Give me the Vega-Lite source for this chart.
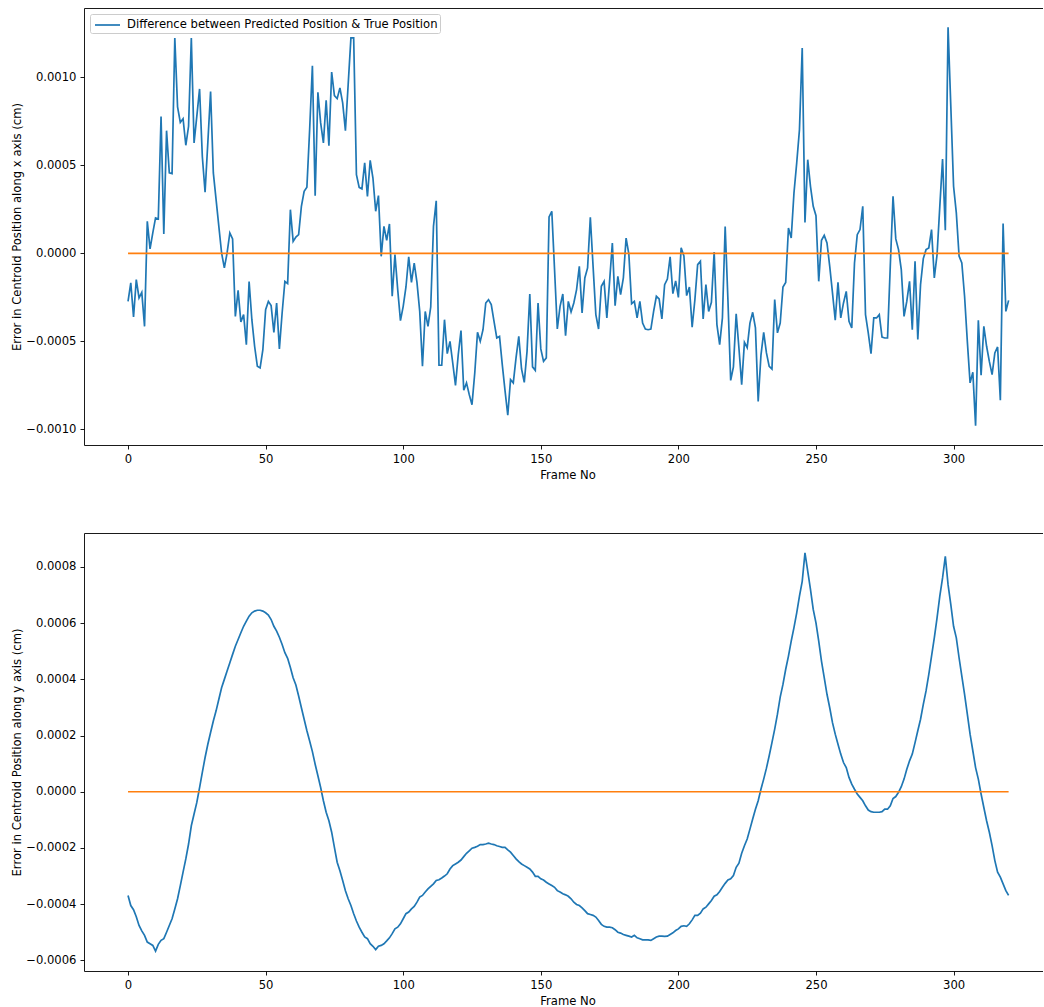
{
  "$schema": "https://vega.github.io/schema/vega-lite/v6.json",
  "padding": {"left": 11, "top": 8, "right": 0, "bottom": 0},
  "config": {
    "font": "DejaVu Sans",
    "view": {"stroke": null},
    "axis": {"grid": false, "domainColor": "#000000", "domainWidth": 0.9, "tickColor": "#000000", "tickWidth": 0.9, "tickSize": 4, "labelColor": "#000000", "labelFontSize": 11.6, "labelFont": "DejaVu Sans", "labelPadding": 4, "titleColor": "#000000", "titleFontSize": 11.6, "titleFontWeight": "normal", "titleFont": "DejaVu Sans"},
    "axisY": {"minExtent": 57, "maxExtent": 57, "titlePadding": 4.5},
    "axisX": {"titlePadding": 5, "labelFlush": false},
    "legend": {"orient": "top-left", "offset": 6, "title": null, "padding": 2, "strokeColor": "#cccccc", "fillColor": "rgba(255,255,255,0.8)", "cornerRadius": 2, "labelFontSize": 11.6, "labelColor": "#000000", "labelFont": "DejaVu Sans", "symbolType": "M-1.5625,0H1.5625", "symbolSize": 256, "symbolStrokeWidth": 1.7, "symbolOffset": 6.5, "labelOffset": 10.6, "labelLimit": 500}
  },
  "spacing": 51,
  "datasets": {
    "zero": [{"frame": 0, "v": 0}, {"frame": 320, "v": 0}],
    "frames": [
{"frame":0,"dx":-0.000273,"dy":-0.000369},
{"frame":1,"dx":-0.000168,"dy":-0.000405},
{"frame":2,"dx":-0.000361,"dy":-0.00042},
{"frame":3,"dx":-0.000149,"dy":-0.000445},
{"frame":4,"dx":-0.000253,"dy":-0.000476},
{"frame":5,"dx":-0.000222,"dy":-0.000495},
{"frame":6,"dx":-0.000415,"dy":-0.000511},
{"frame":7,"dx":0.000182,"dy":-0.000535},
{"frame":8,"dx":0.000025,"dy":-0.000541},
{"frame":9,"dx":0.000116,"dy":-0.000547},
{"frame":10,"dx":0.000201,"dy":-0.000567},
{"frame":11,"dx":0.000195,"dy":-0.000543},
{"frame":12,"dx":0.000778,"dy":-0.000529},
{"frame":13,"dx":0.00011,"dy":-0.000523},
{"frame":14,"dx":0.000697,"dy":-0.0005},
{"frame":15,"dx":0.000457,"dy":-0.000476},
{"frame":16,"dx":0.000453,"dy":-0.000452},
{"frame":17,"dx":0.001224,"dy":-0.000417},
{"frame":18,"dx":0.000832,"dy":-0.000381},
{"frame":19,"dx":0.000744,"dy":-0.000334},
{"frame":20,"dx":0.000765,"dy":-0.000286},
{"frame":21,"dx":0.000614,"dy":-0.000239},
{"frame":22,"dx":0.000722,"dy":-0.000186},
{"frame":23,"dx":0.001224,"dy":-0.000121},
{"frame":24,"dx":0.000627,"dy":-0.000079},
{"frame":25,"dx":0.00078,"dy":-0.000038},
{"frame":26,"dx":0.000934,"dy":0.000015},
{"frame":27,"dx":0.00055,"dy":0.000069},
{"frame":28,"dx":0.000347,"dy":0.000122},
{"frame":29,"dx":0.00063,"dy":0.000169},
{"frame":30,"dx":0.00092,"dy":0.000211},
{"frame":31,"dx":0.000457,"dy":0.000252},
{"frame":32,"dx":0.000305,"dy":0.000288},
{"frame":33,"dx":0.000153,"dy":0.000329},
{"frame":34,"dx":0.000002,"dy":0.00037},
{"frame":35,"dx":-0.000083,"dy":0.0004},
{"frame":36,"dx":0.000002,"dy":0.00043},
{"frame":37,"dx":0.000116,"dy":0.000459},
{"frame":38,"dx":0.000082,"dy":0.000489},
{"frame":39,"dx":-0.000358,"dy":0.000518},
{"frame":40,"dx":-0.00021,"dy":0.000542},
{"frame":41,"dx":-0.00039,"dy":0.000566},
{"frame":42,"dx":-0.000348,"dy":0.000589},
{"frame":43,"dx":-0.000519,"dy":0.000607},
{"frame":44,"dx":-0.00016,"dy":0.000625},
{"frame":45,"dx":-0.000377,"dy":0.000637},
{"frame":46,"dx":-0.000528,"dy":0.000643},
{"frame":47,"dx":-0.000642,"dy":0.000646},
{"frame":48,"dx":-0.000651,"dy":0.000646},
{"frame":49,"dx":-0.000547,"dy":0.000643},
{"frame":50,"dx":-0.00032,"dy":0.000637},
{"frame":51,"dx":-0.000273,"dy":0.000629},
{"frame":52,"dx":-0.000297,"dy":0.000613},
{"frame":53,"dx":-0.000449,"dy":0.000589},
{"frame":54,"dx":-0.000282,"dy":0.000572},
{"frame":55,"dx":-0.000543,"dy":0.00055},
{"frame":56,"dx":-0.000339,"dy":0.000524},
{"frame":57,"dx":-0.000159,"dy":0.000495},
{"frame":58,"dx":-0.000172,"dy":0.000475},
{"frame":59,"dx":0.000248,"dy":0.000442},
{"frame":60,"dx":0.000068,"dy":0.000406},
{"frame":61,"dx":0.000093,"dy":0.00038},
{"frame":62,"dx":0.000106,"dy":0.000341},
{"frame":63,"dx":0.000267,"dy":0.000299},
{"frame":64,"dx":0.000352,"dy":0.000258},
{"frame":65,"dx":0.000375,"dy":0.000217},
{"frame":66,"dx":0.000703,"dy":0.000181},
{"frame":67,"dx":0.001066,"dy":0.000143},
{"frame":68,"dx":0.000328,"dy":0.000098},
{"frame":69,"dx":0.000915,"dy":0.000057},
{"frame":70,"dx":0.000741,"dy":0.000015},
{"frame":71,"dx":0.000627,"dy":-0.000032},
{"frame":72,"dx":0.000869,"dy":-0.000073},
{"frame":73,"dx":0.000612,"dy":-0.000103},
{"frame":74,"dx":0.00103,"dy":-0.000144},
{"frame":75,"dx":0.000896,"dy":-0.000198},
{"frame":76,"dx":0.000879,"dy":-0.000251},
{"frame":77,"dx":0.00094,"dy":-0.000281},
{"frame":78,"dx":0.000855,"dy":-0.000316},
{"frame":79,"dx":0.000697,"dy":-0.000352},
{"frame":80,"dx":0.000959,"dy":-0.000381},
{"frame":81,"dx":0.001224,"dy":-0.000405},
{"frame":82,"dx":0.001224,"dy":-0.000434},
{"frame":83,"dx":0.000447,"dy":-0.00046},
{"frame":84,"dx":0.000375,"dy":-0.000482},
{"frame":85,"dx":0.000366,"dy":-0.0005},
{"frame":86,"dx":0.000514,"dy":-0.000517},
{"frame":87,"dx":0.000324,"dy":-0.000523},
{"frame":88,"dx":0.000528,"dy":-0.000541},
{"frame":89,"dx":0.000428,"dy":-0.00055},
{"frame":90,"dx":0.000239,"dy":-0.000562},
{"frame":91,"dx":0.000328,"dy":-0.00055},
{"frame":92,"dx":-0.000017,"dy":-0.000547},
{"frame":93,"dx":0.000153,"dy":-0.000541},
{"frame":94,"dx":0.000074,"dy":-0.000531},
{"frame":95,"dx":0.000167,"dy":-0.00052},
{"frame":96,"dx":-0.000244,"dy":-0.000505},
{"frame":97,"dx":-0.000007,"dy":-0.000488},
{"frame":98,"dx":-0.000206,"dy":-0.000482},
{"frame":99,"dx":-0.000382,"dy":-0.00047},
{"frame":100,"dx":-0.000301,"dy":-0.000452},
{"frame":101,"dx":-0.000191,"dy":-0.000434},
{"frame":102,"dx":-0.00002,"dy":-0.000428},
{"frame":103,"dx":-0.000165,"dy":-0.000417},
{"frame":104,"dx":-0.000055,"dy":-0.000408},
{"frame":105,"dx":-0.000165,"dy":-0.000393},
{"frame":106,"dx":-0.00033,"dy":-0.000375},
{"frame":107,"dx":-0.000642,"dy":-0.000369},
{"frame":108,"dx":-0.00033,"dy":-0.000357},
{"frame":109,"dx":-0.000415,"dy":-0.000346},
{"frame":110,"dx":-0.000305,"dy":-0.000337},
{"frame":111,"dx":0.000153,"dy":-0.000328},
{"frame":112,"dx":0.000299,"dy":-0.000316},
{"frame":113,"dx":-0.000636,"dy":-0.000313},
{"frame":114,"dx":-0.000636,"dy":-0.000307},
{"frame":115,"dx":-0.000377,"dy":-0.0003},
{"frame":116,"dx":-0.00057,"dy":-0.000292},
{"frame":117,"dx":-0.0005,"dy":-0.000275},
{"frame":118,"dx":-0.000623,"dy":-0.000263},
{"frame":119,"dx":-0.00075,"dy":-0.000257},
{"frame":120,"dx":-0.000576,"dy":-0.000251},
{"frame":121,"dx":-0.000439,"dy":-0.000243},
{"frame":122,"dx":-0.000778,"dy":-0.000231},
{"frame":123,"dx":-0.000736,"dy":-0.000219},
{"frame":124,"dx":-0.000803,"dy":-0.00021},
{"frame":125,"dx":-0.00086,"dy":-0.000201},
{"frame":126,"dx":-0.00068,"dy":-0.000198},
{"frame":127,"dx":-0.000449,"dy":-0.000194},
{"frame":128,"dx":-0.0005,"dy":-0.000188},
{"frame":129,"dx":-0.000434,"dy":-0.000188},
{"frame":130,"dx":-0.000282,"dy":-0.000186},
{"frame":131,"dx":-0.000263,"dy":-0.000183},
{"frame":132,"dx":-0.000291,"dy":-0.000186},
{"frame":133,"dx":-0.000386,"dy":-0.000188},
{"frame":134,"dx":-0.000481,"dy":-0.000192},
{"frame":135,"dx":-0.000472,"dy":-0.000195},
{"frame":136,"dx":-0.000632,"dy":-0.000198},
{"frame":137,"dx":-0.00078,"dy":-0.000198},
{"frame":138,"dx":-0.00092,"dy":-0.000207},
{"frame":139,"dx":-0.000718,"dy":-0.000215},
{"frame":140,"dx":-0.000736,"dy":-0.000227},
{"frame":141,"dx":-0.000594,"dy":-0.000239},
{"frame":142,"dx":-0.000472,"dy":-0.000249},
{"frame":143,"dx":-0.000657,"dy":-0.000257},
{"frame":144,"dx":-0.000733,"dy":-0.000263},
{"frame":145,"dx":-0.000557,"dy":-0.000269},
{"frame":146,"dx":-0.000231,"dy":-0.000275},
{"frame":147,"dx":-0.000645,"dy":-0.000286},
{"frame":148,"dx":-0.000665,"dy":-0.000301},
{"frame":149,"dx":-0.000282,"dy":-0.000301},
{"frame":150,"dx":-0.000543,"dy":-0.00031},
{"frame":151,"dx":-0.000614,"dy":-0.000314},
{"frame":152,"dx":-0.000594,"dy":-0.000322},
{"frame":153,"dx":0.000207,"dy":-0.000328},
{"frame":154,"dx":0.000239,"dy":-0.000334},
{"frame":155,"dx":-0.000093,"dy":-0.00034},
{"frame":156,"dx":-0.00043,"dy":-0.000352},
{"frame":157,"dx":-0.000301,"dy":-0.000357},
{"frame":158,"dx":-0.000231,"dy":-0.000363},
{"frame":159,"dx":-0.000468,"dy":-0.000367},
{"frame":160,"dx":-0.000273,"dy":-0.000372},
{"frame":161,"dx":-0.000333,"dy":-0.000381},
{"frame":162,"dx":-0.000282,"dy":-0.000393},
{"frame":163,"dx":-0.000206,"dy":-0.000401},
{"frame":164,"dx":-0.000074,"dy":-0.000405},
{"frame":165,"dx":-0.000339,"dy":-0.000413},
{"frame":166,"dx":-0.00014,"dy":-0.000423},
{"frame":167,"dx":-0.000083,"dy":-0.000434},
{"frame":168,"dx":0.000205,"dy":-0.000437},
{"frame":169,"dx":-0.000074,"dy":-0.00044},
{"frame":170,"dx":-0.000348,"dy":-0.000446},
{"frame":171,"dx":-0.00043,"dy":-0.000458},
{"frame":172,"dx":-0.000187,"dy":-0.000472},
{"frame":173,"dx":-0.000159,"dy":-0.000479},
{"frame":174,"dx":-0.000367,"dy":-0.000482},
{"frame":175,"dx":-0.000159,"dy":-0.000482},
{"frame":176,"dx":0.000059,"dy":-0.000484},
{"frame":177,"dx":-0.000297,"dy":-0.000491},
{"frame":178,"dx":-0.000131,"dy":-0.0005},
{"frame":179,"dx":-0.000235,"dy":-0.000503},
{"frame":180,"dx":-0.00014,"dy":-0.000508},
{"frame":181,"dx":0.000087,"dy":-0.000511},
{"frame":182,"dx":-0.000005,"dy":-0.000514},
{"frame":183,"dx":-0.000286,"dy":-0.000517},
{"frame":184,"dx":-0.000273,"dy":-0.000511},
{"frame":185,"dx":-0.000367,"dy":-0.00052},
{"frame":186,"dx":-0.000273,"dy":-0.000523},
{"frame":187,"dx":-0.000396,"dy":-0.000527},
{"frame":188,"dx":-0.00043,"dy":-0.000527},
{"frame":189,"dx":-0.000434,"dy":-0.000527},
{"frame":190,"dx":-0.00043,"dy":-0.000529},
{"frame":191,"dx":-0.00033,"dy":-0.000523},
{"frame":192,"dx":-0.000244,"dy":-0.000517},
{"frame":193,"dx":-0.000259,"dy":-0.000514},
{"frame":194,"dx":-0.000373,"dy":-0.000514},
{"frame":195,"dx":-0.000178,"dy":-0.000515},
{"frame":196,"dx":-0.000146,"dy":-0.000514},
{"frame":197,"dx":-0.00002,"dy":-0.000508},
{"frame":198,"dx":-0.000229,"dy":-0.000502},
{"frame":199,"dx":-0.000157,"dy":-0.000494},
{"frame":200,"dx":-0.00025,"dy":-0.000488},
{"frame":201,"dx":0.000031,"dy":-0.000479},
{"frame":202,"dx":-0.000015,"dy":-0.000477},
{"frame":203,"dx":-0.00024,"dy":-0.000479},
{"frame":204,"dx":-0.000191,"dy":-0.00047},
{"frame":205,"dx":-0.00042,"dy":-0.000456},
{"frame":206,"dx":-0.000263,"dy":-0.00044},
{"frame":207,"dx":-0.000064,"dy":-0.00044},
{"frame":208,"dx":-0.000045,"dy":-0.000432},
{"frame":209,"dx":-0.000373,"dy":-0.000417},
{"frame":210,"dx":-0.000178,"dy":-0.000411},
{"frame":211,"dx":-0.00033,"dy":-0.000399},
{"frame":212,"dx":-0.000278,"dy":-0.000387},
{"frame":213,"dx":0.000008,"dy":-0.000372},
{"frame":214,"dx":-0.000405,"dy":-0.000367},
{"frame":215,"dx":-0.000519,"dy":-0.000355},
{"frame":216,"dx":-0.000367,"dy":-0.00034},
{"frame":217,"dx":0.000153,"dy":-0.000326},
{"frame":218,"dx":-0.000263,"dy":-0.000314},
{"frame":219,"dx":-0.000722,"dy":-0.00031},
{"frame":220,"dx":-0.000645,"dy":-0.000298},
{"frame":221,"dx":-0.000343,"dy":-0.000269},
{"frame":222,"dx":-0.000538,"dy":-0.000254},
{"frame":223,"dx":-0.000746,"dy":-0.000219},
{"frame":224,"dx":-0.000506,"dy":-0.000192},
{"frame":225,"dx":-0.000536,"dy":-0.000168},
{"frame":226,"dx":-0.000396,"dy":-0.000133},
{"frame":227,"dx":-0.000335,"dy":-0.000097},
{"frame":228,"dx":-0.000424,"dy":-0.000062},
{"frame":229,"dx":-0.000841,"dy":-0.000032},
{"frame":230,"dx":-0.00058,"dy":0.000009},
{"frame":231,"dx":-0.000449,"dy":0.000045},
{"frame":232,"dx":-0.000566,"dy":0.000084},
{"frame":233,"dx":-0.000642,"dy":0.000128},
{"frame":234,"dx":-0.000657,"dy":0.000175},
{"frame":235,"dx":-0.000263,"dy":0.000223},
{"frame":236,"dx":-0.000452,"dy":0.000276},
{"frame":237,"dx":-0.000396,"dy":0.000337},
{"frame":238,"dx":-0.000191,"dy":0.000382},
{"frame":239,"dx":-0.000165,"dy":0.000436},
{"frame":240,"dx":0.000144,"dy":0.000483},
{"frame":241,"dx":0.000087,"dy":0.000536},
{"frame":242,"dx":0.000343,"dy":0.000584},
{"frame":243,"dx":0.000514,"dy":0.000637},
{"frame":244,"dx":0.000703,"dy":0.000696},
{"frame":245,"dx":0.001167,"dy":0.000749},
{"frame":246,"dx":0.000176,"dy":0.00085},
{"frame":247,"dx":0.000532,"dy":0.000785},
{"frame":248,"dx":0.000381,"dy":0.00072},
{"frame":249,"dx":0.000267,"dy":0.000649},
{"frame":250,"dx":0.000214,"dy":0.000601},
{"frame":251,"dx":-0.000159,"dy":0.000536},
{"frame":252,"dx":0.000074,"dy":0.000465},
{"frame":253,"dx":0.000102,"dy":0.000406},
{"frame":254,"dx":0.000059,"dy":0.000347},
{"frame":255,"dx":-0.000074,"dy":0.000299},
{"frame":256,"dx":-0.000225,"dy":0.000246},
{"frame":257,"dx":-0.00038,"dy":0.000205},
{"frame":258,"dx":-0.000165,"dy":0.000169},
{"frame":259,"dx":-0.000367,"dy":0.000134},
{"frame":260,"dx":-0.000282,"dy":0.000104},
{"frame":261,"dx":-0.000216,"dy":0.000086},
{"frame":262,"dx":-0.000386,"dy":0.000051},
{"frame":263,"dx":-0.000424,"dy":0.000027},
{"frame":264,"dx":-0.000055,"dy":0.000009},
{"frame":265,"dx":0.000106,"dy":-0.000008},
{"frame":266,"dx":0.000135,"dy":-0.00002},
{"frame":267,"dx":0.000267,"dy":-0.000032},
{"frame":268,"dx":-0.000348,"dy":-0.00005},
{"frame":269,"dx":-0.000452,"dy":-0.000065},
{"frame":270,"dx":-0.00057,"dy":-0.000071},
{"frame":271,"dx":-0.000367,"dy":-0.000073},
{"frame":272,"dx":-0.000367,"dy":-0.000073},
{"frame":273,"dx":-0.000348,"dy":-0.000073},
{"frame":274,"dx":-0.000476,"dy":-0.000071},
{"frame":275,"dx":-0.000481,"dy":-0.000062},
{"frame":276,"dx":-0.000481,"dy":-0.000062},
{"frame":277,"dx":-0.000074,"dy":-0.00005},
{"frame":278,"dx":0.000324,"dy":-0.000024},
{"frame":279,"dx":0.000082,"dy":-0.000017},
{"frame":280,"dx":0.000021,"dy":-0.000002},
{"frame":281,"dx":-0.000093,"dy":0.000018},
{"frame":282,"dx":-0.000358,"dy":0.000045},
{"frame":283,"dx":-0.000273,"dy":0.00008},
{"frame":284,"dx":-0.000159,"dy":0.00011},
{"frame":285,"dx":-0.000434,"dy":0.000134},
{"frame":286,"dx":-0.000045,"dy":0.000175},
{"frame":287,"dx":-0.00049,"dy":0.000217},
{"frame":288,"dx":-0.000178,"dy":0.000258},
{"frame":289,"dx":-0.00003,"dy":0.000311},
{"frame":290,"dx":0.000021,"dy":0.000359},
{"frame":291,"dx":0.000031,"dy":0.000418},
{"frame":292,"dx":0.000135,"dy":0.000483},
{"frame":293,"dx":-0.00014,"dy":0.000548},
{"frame":294,"dx":-0.000007,"dy":0.000619},
{"frame":295,"dx":0.000267,"dy":0.000696},
{"frame":296,"dx":0.000536,"dy":0.000761},
{"frame":297,"dx":0.000131,"dy":0.000838},
{"frame":298,"dx":0.001284,"dy":0.000737},
{"frame":299,"dx":0.000835,"dy":0.000666},
{"frame":300,"dx":0.000381,"dy":0.000589},
{"frame":301,"dx":0.00023,"dy":0.000548},
{"frame":302,"dx":-0.000015,"dy":0.000477},
{"frame":303,"dx":-0.000055,"dy":0.000412},
{"frame":304,"dx":-0.000244,"dy":0.000347},
{"frame":305,"dx":-0.0005,"dy":0.000276},
{"frame":306,"dx":-0.000736,"dy":0.000205},
{"frame":307,"dx":-0.000676,"dy":0.000146},
{"frame":308,"dx":-0.000979,"dy":0.000086},
{"frame":309,"dx":-0.00038,"dy":0.000045},
{"frame":310,"dx":-0.000693,"dy":-0.000008},
{"frame":311,"dx":-0.000415,"dy":-0.000056},
{"frame":312,"dx":-0.000528,"dy":-0.000103},
{"frame":313,"dx":-0.000614,"dy":-0.000144},
{"frame":314,"dx":-0.000689,"dy":-0.000192},
{"frame":315,"dx":-0.000566,"dy":-0.000245},
{"frame":316,"dx":-0.000532,"dy":-0.000286},
{"frame":317,"dx":-0.000835,"dy":-0.000304},
{"frame":318,"dx":0.000169,"dy":-0.000328},
{"frame":319,"dx":-0.00033,"dy":-0.000352},
{"frame":320,"dx":-0.000267,"dy":-0.000369}
    ]
  },
  "vconcat": [
    {
      "width": 959,
      "height": 437,
      "layer": [
        {
          "data": {"name": "frames"},
          "mark": {"type": "line", "strokeWidth": 1.7},
          "encoding": {
            "x": {"field": "frame", "type": "quantitative", "scale": {"domain": [-16, 332.5], "nice": false, "zero": false}, "axis": {"orient": "bottom", "values": [0, 50, 100, 150, 200, 250, 300], "title": "Frame No", "titleX": 483.5}},
            "y": {"field": "dx", "type": "quantitative", "scale": {"domain": [-0.001089, 0.001394], "nice": false, "zero": false}, "axis": {"values": [-0.001, -0.0005, 0, 0.0005, 0.001], "format": ".4f", "title": "Error in Centroid Position along x axis (cm)"}},
            "color": {"datum": "Difference between Predicted Position & True Position", "type": "nominal", "scale": {"range": ["#1f77b4"]}}
          }
        },
        {
          "data": {"name": "zero"},
          "mark": {"type": "line", "color": "#ff7f0e", "strokeWidth": 1.7},
          "encoding": {
            "x": {"field": "frame", "type": "quantitative", "axis": {"orient": "top", "labels": false, "ticks": false, "title": null, "domain": true}},
            "y": {"field": "v", "type": "quantitative"}
          }
        }
      ],
      "resolve": {"axis": {"x": "independent"}}
    },
    {
      "width": 959,
      "height": 438,
      "layer": [
        {
          "data": {"name": "frames"},
          "mark": {"type": "line", "strokeWidth": 1.7},
          "encoding": {
            "x": {"field": "frame", "type": "quantitative", "scale": {"domain": [-16, 332.5], "nice": false, "zero": false}, "axis": {"orient": "bottom", "values": [0, 50, 100, 150, 200, 250, 300], "title": "Frame No", "titleX": 483.5}},
            "y": {"field": "dy", "type": "quantitative", "scale": {"domain": [-0.000638, 0.000921], "nice": false, "zero": false}, "axis": {"values": [-0.0006, -0.0004, -0.0002, 0, 0.0002, 0.0004, 0.0006, 0.0008], "format": ".4f", "title": "Error in Centroid Position along y axis (cm)"}},
            "color": {"datum": "Difference between Predicted Position & True Position", "type": "nominal", "scale": {"range": ["#1f77b4"]}}
          }
        },
        {
          "data": {"name": "zero"},
          "mark": {"type": "line", "color": "#ff7f0e", "strokeWidth": 1.7},
          "encoding": {
            "x": {"field": "frame", "type": "quantitative", "axis": {"orient": "top", "labels": false, "ticks": false, "title": null, "domain": true}},
            "y": {"field": "v", "type": "quantitative"}
          }
        }
      ],
      "resolve": {"axis": {"x": "independent"}}
    }
  ]
}
